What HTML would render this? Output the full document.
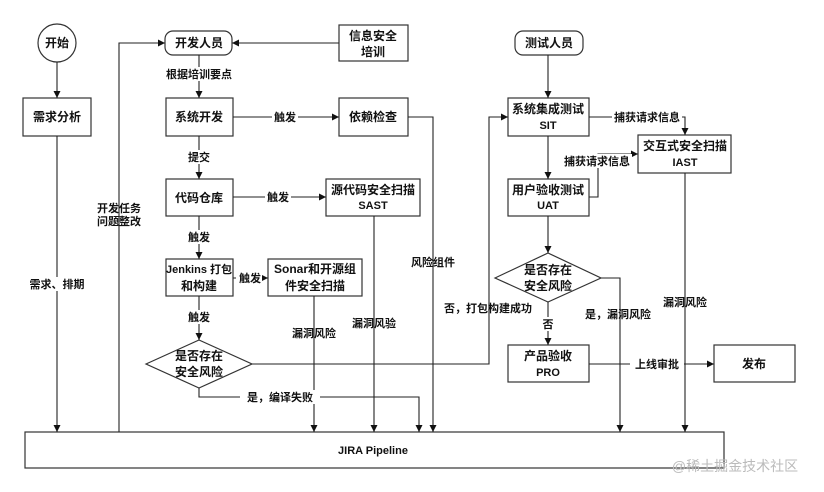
<!DOCTYPE html>
<html><head><meta charset="utf-8"><style>
body{margin:0;background:#fff}
svg{display:block}
text{font-family:"Liberation Sans","Noto Sans CJK SC",sans-serif;font-size:11px;fill:#111;text-anchor:middle;font-weight:bold}
.b{font-size:12px}
</style></head><body>
<svg width="824" height="492" viewBox="0 0 824 492" xmlns="http://www.w3.org/2000/svg">
<defs><marker id="a" markerWidth="8" markerHeight="8" refX="7" refY="4" orient="auto" markerUnits="userSpaceOnUse"><path d="M0,0.5 L7,4 L0,7.5z" fill="#111"/></marker></defs>
<g fill="#fff" stroke="#333" stroke-width="1.2">
<circle cx="57" cy="43" r="19"/>
<rect x="23" y="98" width="68" height="38"/>
<rect x="165" y="31" width="67" height="24" rx="8"/>
<rect x="339" y="25" width="69" height="36"/>
<rect x="166" y="98" width="67" height="38"/>
<rect x="339" y="98" width="69" height="38"/>
<rect x="166" y="179" width="67" height="37"/>
<rect x="326" y="179" width="94" height="37"/>
<rect x="166" y="259" width="67" height="37"/>
<rect x="268" y="259" width="94" height="37"/>
<path d="M146,364 L199,340 L252,364 L199,388z"/>
<rect x="25" y="432" width="699" height="36"/>
<rect x="515" y="31" width="68" height="24" rx="8"/>
<rect x="508" y="98" width="81" height="38"/>
<rect x="638" y="135" width="93" height="38"/>
<rect x="508" y="179" width="81" height="37"/>
<path d="M495,278 L548,253 L601,278 L548,302z"/>
<rect x="508" y="345" width="81" height="37"/>
<rect x="714" y="345" width="81" height="37"/>
</g>
<g fill="none" stroke="#222" stroke-width="1.1" marker-end="url(#a)">
<path d="M57,62 V98"/>
<path d="M57,136 V432"/>
<path d="M119,432 V43 H165"/>
<path d="M339,43 H232"/>
<path d="M199,55 V98"/>
<path d="M233,117 H339"/>
<path d="M199,136 V179"/>
<path d="M233,197 H326"/>
<path d="M199,216 V259"/>
<path d="M233,278 H268"/>
<path d="M199,296 V340"/>
<path d="M408,117 H433 V432"/>
<path d="M374,216 V432"/>
<path d="M314,296 V432"/>
<path d="M199,388 V397 H419 V432"/>
<path d="M252,364 H489 V117 H508"/>
<path d="M548,55 V98"/>
<path d="M548,136 V179"/>
<path d="M589,117 H685 V135"/>
<path d="M589,197 H598 V154 H638"/>
<path d="M548,216 V253"/>
<path d="M548,302 V345"/>
<path d="M601,278 H620 V432"/>
<path d="M685,173 V432"/>
<path d="M589,364 H714"/>
</g>
<g fill="#fff">
<rect x="272" y="110" width="26" height="14"/><rect x="265" y="190" width="26" height="14"/>
<rect x="236" y="271" width="26" height="14"/><rect x="186" y="230" width="26" height="14"/>
<rect x="186" y="310" width="26" height="14"/><rect x="186" y="150" width="26" height="14"/>
<rect x="160" y="67" width="78" height="14"/><rect x="240" y="390" width="80" height="14"/>
<rect x="612" y="110" width="70" height="14"/><rect x="562" y="154" width="70" height="14"/>
<rect x="538" y="317" width="20" height="14"/><rect x="630" y="357" width="54" height="14"/>
<rect x="28" y="277" width="58" height="14"/>
</g>
<text class="b" x="57" y="47">开始</text>
<text class="b" x="57" y="121">需求分析</text>
<text class="b" x="199" y="47">开发人员</text>
<text class="b" x="373" y="40">信息安全</text>
<text class="b" x="373" y="56">培训</text>
<text class="b" x="199" y="121">系统开发</text>
<text class="b" x="373" y="121">依赖检查</text>
<text class="b" x="199" y="202">代码仓库</text>
<text class="b" x="373" y="194">源代码安全扫描</text>
<text x="373" y="209">SAST</text>
<text x="199" y="273" style="font-size:11px">Jenkins 打包</text>
<text class="b" x="199" y="290">和构建</text>
<text class="b" x="315" y="273">Sonar和开源组</text>
<text class="b" x="315" y="290">件安全扫描</text>
<text class="b" x="199" y="360">是否存在</text>
<text class="b" x="199" y="376">安全风险</text>
<text x="373" y="454">JIRA Pipeline</text>
<text class="b" x="549" y="47">测试人员</text>
<text class="b" x="548" y="113">系统集成测试</text>
<text x="548" y="129">SIT</text>
<text class="b" x="685" y="150">交互式安全扫描</text>
<text x="685" y="166">IAST</text>
<text class="b" x="548" y="194">用户验收测试</text>
<text x="548" y="209">UAT</text>
<text class="b" x="548" y="274">是否存在</text>
<text class="b" x="548" y="290">安全风险</text>
<text class="b" x="548" y="360">产品验收</text>
<text x="548" y="376">PRO</text>
<text class="b" x="754" y="368">发布</text>
<text x="199" y="78">根据培训要点</text>
<text x="285" y="121">触发</text>
<text x="199" y="161">提交</text>
<text x="278" y="201">触发</text>
<text x="199" y="241">触发</text>
<text x="250" y="282">触发</text>
<text x="199" y="321">触发</text>
<text x="119" y="212">开发任务</text>
<text x="119" y="225">问题整改</text>
<text x="57" y="288">需求、排期</text>
<text x="314" y="337">漏洞风险</text>
<text x="374" y="327">漏洞风验</text>
<text x="433" y="266">风险组件</text>
<text x="280" y="401">是，编译失败</text>
<text x="488" y="312">否，打包构建成功</text>
<text x="647" y="121">捕获请求信息</text>
<text x="597" y="165">捕获请求信息</text>
<text x="548" y="328">否</text>
<text x="618" y="318">是，漏洞风险</text>
<text x="685" y="306">漏洞风险</text>
<text x="657" y="368">上线审批</text>
<text x="735" y="471" style="font-size:14px;fill:#bbb;font-weight:normal">@稀土掘金技术社区</text>
</svg>
</body></html>
